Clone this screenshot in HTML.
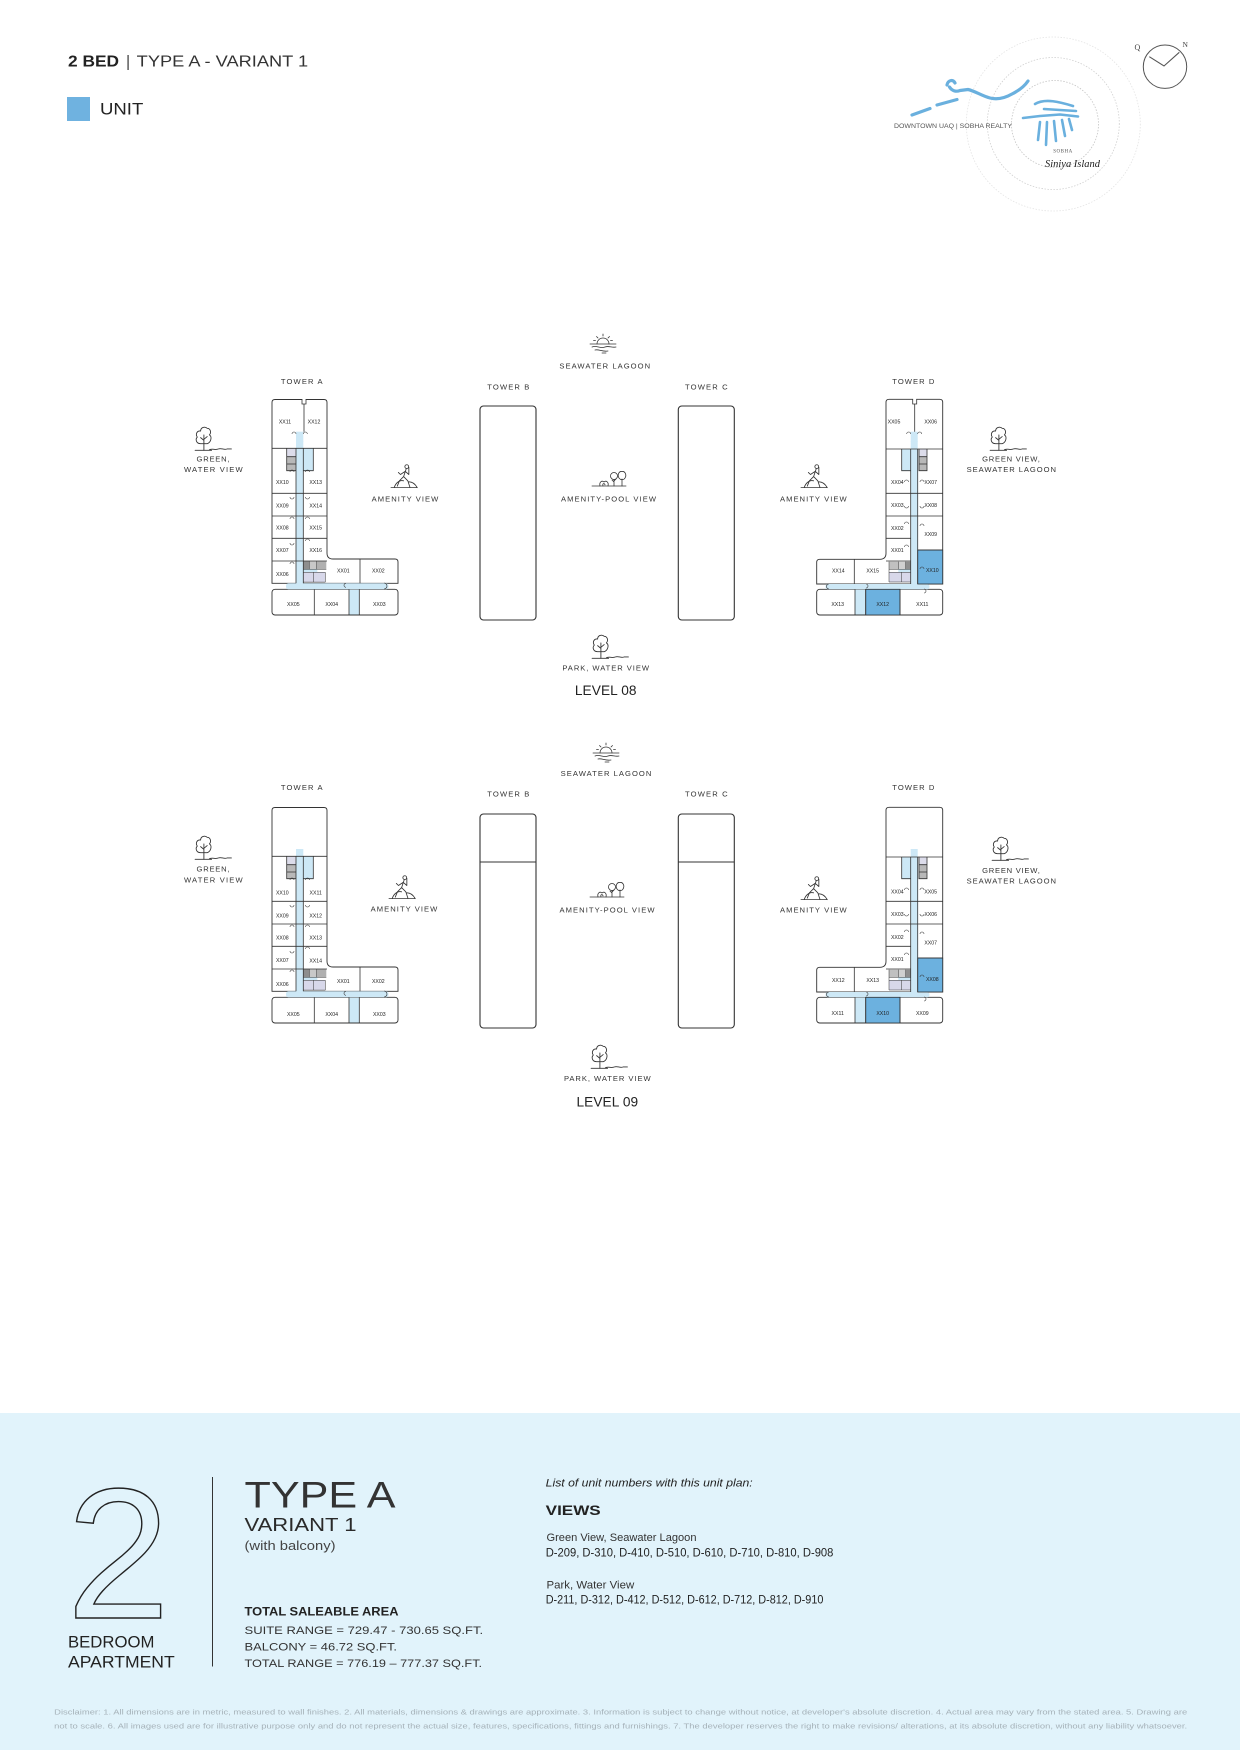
<!DOCTYPE html>
<html><head><meta charset="utf-8">
<style>
html,body{margin:0;padding:0;background:#fff;}
svg{display:block;}
text{font-family:"Liberation Sans",Arial,sans-serif;}
.o{fill:#fff;stroke:#333;stroke-width:0.9;}
.c{fill:#cde8f6;}
.h{fill:#6cb1df;stroke:#333;stroke-width:0.8;}
.l{fill:none;stroke:#333;stroke-width:0.8;}
.u{font-size:5.2px;fill:#222;text-anchor:middle;}
.t{font-size:7.6px;fill:#333;text-anchor:middle;}
.ic{fill:none;stroke:#333;stroke-width:0.8;stroke-linecap:round;stroke-linejoin:round;}
.bl{fill:none;stroke:#6ab0de;stroke-width:3.2;stroke-linecap:round;stroke-linejoin:round;}
</style></head><body>
<svg width="1240" height="1750" viewBox="0 0 1240 1750" xmlns="http://www.w3.org/2000/svg">
<defs>
 <g id="iTree" class="ic">
  <path d="M6,17 C2,17 1,13 3,11 C1,8 3,5 6,5.5 C6,2 10,1 12,3 C15,3 16,7 14,9 C17,11 15,16 12,17 Z"/>
  <path d="M9,9 V23 M9,14 L6,11.5 M9,13 L12,10.5"/>
  <path d="M1,23 H16 M14,22.5 C17,21 19,23 22,21.8 C25,20.8 27,22.8 30,21.8 L34,21.8"/>
 </g>
 <g id="iPerson" class="ic">
  <circle cx="15" cy="2.5" r="1.8"/>
  <path d="M14.5,4.5 L12,12 L8,16 L6,21 M12,12 L16,16 L18,22 M13.5,7 L9,10 L7,8 M13.5,7 L17,10 L17,3"/>
  <path d="M0,22.5 H25 M3,22.5 C5,17 9,15 12,16 M17,17 C20,17 23,19 25,22.5"/>
 </g>
 <g id="iSun" class="ic">
  <path d="M9,11 A6,6 0 0 1 21,11"/>
  <path d="M15,1 V3 M8.5,3.5 L10,5 M21.5,3.5 L20,5 M5.5,7.5 H7.5 M22.5,7.5 H24.5"/>
  <path d="M2,11 H28 M4,14 C9,12 12,16 17,14 C21,12.5 24,15 28,14 M7,17 C11,16 14,19 20,18 M14,20 H18"/>
 </g>
 <g id="iPool" class="ic">
  <path d="M0,16 H34"/>
  <circle cx="22" cy="6" r="3.5"/>
  <path d="M22,9.5 V16 M22,12 L20,10 M22,11 L24,9"/>
  <path d="M27,8 C25,5 27,1 30,1.5 C33,1 35,5 33,8 C32,10 29,10 28,9 Z"/>
  <path d="M30,9 V16"/>
  <path d="M8,16 C7,12 10,10 12,12 C14,10 17,12 16,16 M11,16 C10,13 13,13 13,15"/>
 </g>

 <g id="taB">
  <path class="o" d="M275,399.5 H324 Q327,399.5 327,402.5 V553 Q327,559 333,559 H395 Q398,559 398,562 V583.3 H272 V402.5 Q272,399.5 275,399.5 Z"/>
  <rect class="o" x="272" y="589.3" width="126" height="25.7" rx="3"/>
  <rect class="c" x="296" y="441" width="7.3" height="146"/>
  <rect class="c" x="286" y="583.3" width="102.5" height="6" rx="2.5"/>
  <rect class="c" x="349" y="589.8" width="10.3" height="24.7"/>
  <rect fill="#dcdcea" x="286.7" y="448.3" width="9.3" height="8.4"/>
  <rect fill="#b8b8b8" x="286.7" y="456.7" width="9.3" height="14"/>
  <rect class="c" x="303.3" y="448.3" width="10" height="22.4"/>
  <path class="l" d="M286.7,448.3 V470.7 H296 M286.7,456.7 H296 M286.7,464 H296 M303.3,470.7 H313.3 V448.3"/>
  <rect fill="#8e8e8e" x="303.3" y="561" width="6" height="8.3"/>
  <rect fill="#c8c8c8" x="309.3" y="561" width="7.4" height="8.3"/>
  <rect fill="#b0b0b0" x="316.7" y="561" width="9.6" height="8.3"/>
  <rect class="c" x="303.3" y="569.3" width="14" height="3"/>
  <rect fill="#d8d8ea" x="303.3" y="572.3" width="10" height="9.8"/>
  <rect fill="#d8d8ea" x="313.3" y="572.3" width="12" height="9.8"/>
  <path class="l" style="stroke-width:0.5" d="M309.3,561 V569.3 M316.7,561 V569.3 M303.3,569.3 H326.3 M303.3,572.3 H325.3 V582.1 H303.3 M313.3,572.3 V582.1"/>
  <path class="l" d="M272,448.3 H327 M272,493.3 H327 M272,516 H327 M272,538.3 H327 M272,561 H327 M296,448.3 V583.3 M303.3,448.3 V583.3 M360,559 V583.3 M314.3,589.3 V615 M349,589.3 V615 M359.3,589.3 V615"/>
  <path class="l" style="stroke-width:0.6" d="M294,472 a2,2 0 0 0 -4,0 M305.5,472 a2,2 0 0 1 4,0 M294,497 a2,2 0 0 1 -4,0 M305.5,497 a2,2 0 0 0 4,0 M294,519 a2,2 0 0 0 -4,0 M305.5,519 a2,2 0 0 1 4,0 M294,543 a2,2 0 0 1 -4,0 M305.5,541 a2,2 0 0 1 4,0 M294,564 a2,2 0 0 0 -4,0 M346,583.3 a2,2 0 0 0 0,4 M384,583 a2.5,2.5 0 0 1 0,6"/>
 </g>

 <g id="tdB">
  <path class="o" d="M889,399.3 H939.7 Q942.7,399.3 942.7,402.3 V584 H816.7 V562.3 Q816.7,559.3 819.7,559.3 H880 Q886,559.3 886,553.3 V402.3 Q886,399.3 889,399.3 Z"/>
  <rect class="o" x="816.7" y="589.3" width="126" height="25.7" rx="3"/>
  <rect class="c" x="910.7" y="441" width="7" height="146"/>
  <rect class="c" x="825.5" y="584" width="104" height="5.3" rx="2.5"/>
  <rect class="c" x="855" y="589.8" width="10.7" height="24.7"/>
  <rect class="h" x="917.7" y="550" width="25" height="34"/>
  <rect class="h" x="865.7" y="589.3" width="34.3" height="25.7"/>
  <rect class="c" x="901.7" y="449" width="9" height="21.7"/>
  <rect fill="#dcdcea" x="919" y="449" width="8" height="7.7"/>
  <rect fill="#b8b8b8" x="919" y="456.7" width="8" height="14"/>
  <path class="l" d="M901.7,449 V470.7 H910.7 M919,449 V470.7 H927 V449 M919,456.7 H927 M919,464 H927"/>
  <rect fill="#c0c0c0" x="889" y="561.7" width="9.3" height="7.6"/>
  <rect fill="#d0d0d0" x="898.3" y="561.7" width="7.4" height="7.6"/>
  <rect fill="#8e8e8e" x="905.7" y="561.7" width="5" height="7.6"/>
  <rect class="c" x="898.3" y="569.3" width="12.4" height="3"/>
  <rect fill="#d8d8ea" x="889" y="572.3" width="12.7" height="9.7"/>
  <rect fill="#d8d8ea" x="901.7" y="572.3" width="9" height="9.7"/>
  <path class="l" style="stroke-width:0.5" d="M889,561.7 V582 H910.7 M898.3,561.7 V569.3 M905.7,561.7 V569.3 M889,569.3 H910.7 M889,572.3 H910.7 M901.7,572.3 V582"/>
  <path class="l" d="M886,449 H942.7 M886,493.3 H942.7 M886,516 H942.7 M886,538.3 H910.7 M886,561 H910.7 M917.7,550 H942.7 M910.7,449 V584 M917.7,449 V584 M854.3,559.3 V584 M855,589.3 V615 M865.7,589.3 V615 M900,589.3 V615"/>
  <path class="l" style="stroke-width:0.6" d="M908.5,482 a2,2 0 0 0 -4,0 M920,482 a2,2 0 0 1 4,0 M908.5,506 a2,2 0 0 1 -4,0 M920,506 a2,2 0 0 0 4,0 M908.5,524 a2,2 0 0 0 -4,0 M920,526 a2,2 0 0 1 4,0 M908.5,547 a2,2 0 0 0 -4,0 M920,569 a2,2 0 0 1 4,0 M829,584 a2.5,2.5 0 0 0 0,5 M866,584 a2,2 0 0 1 0,4 M924,589 a2,2 0 0 1 0,4"/>
 </g>

 <g id="tbc">
  <rect class="o" style="stroke-width:1.1" x="480" y="406" width="56" height="214" rx="3.5"/>
  <rect class="o" style="stroke-width:1.1" x="678.3" y="406" width="56" height="214" rx="3.5"/>
 </g>
</defs>

<!-- HEADER -->
<text x="68" y="66.7" font-size="16" font-weight="bold" fill="#222" textLength="51" lengthAdjust="spacingAndGlyphs">2 BED</text>
<text x="126" y="66.7" font-size="16" fill="#444">|</text>
<text x="136.7" y="66.7" font-size="16" fill="#333" textLength="171.5" lengthAdjust="spacingAndGlyphs">TYPE A - VARIANT 1</text>
<rect x="67" y="97" width="23" height="24" fill="#6fb2e0"/>
<text x="100" y="114.3" font-size="17" fill="#222" textLength="43.3" lengthAdjust="spacingAndGlyphs">UNIT</text>

<!-- MAP -->
<circle cx="1053.3" cy="124" r="87" fill="none" stroke="#e4e4e4" stroke-width="0.8" stroke-dasharray="1.5 1.5"/>
<circle cx="1053.3" cy="123.5" r="66" fill="none" stroke="#d0d0d0" stroke-width="0.8" stroke-dasharray="1.5 1.5"/>
<circle cx="1055" cy="124" r="43.5" fill="none" stroke="#c4c4c4" stroke-width="0.8" stroke-dasharray="1.5 1.5"/>
<path class="bl" d="M912,115 L930,108.5"/>
<path class="bl" d="M937,105 L957,99.5"/>
<path class="bl" d="M947,85 C948,80 953,79 955,83 M949.5,87 C952,91 956,92 960,90.5 L968,89.5 C975,91 982,96 990,98 C998,100 1005,98 1012,94 C1018,91 1024,87 1028,81"/>
<path class="bl" style="stroke-width:2.6" d="M1023,118 L1040,116 L1060,114.5 L1078,116.5 M1035,104 C1045,98 1060,102 1073,106 M1044,109 L1076,111 M1040,122 L1038,140 M1047,122 L1046,145 M1054,121 L1056,141 M1062,120 L1065,136 M1069,119 L1072,130"/>
<text x="894" y="128" font-size="6.5" fill="#555" textLength="118" lengthAdjust="spacingAndGlyphs">DOWNTOWN UAQ | SOBHA REALTY</text>
<text x="1063" y="152.5" font-size="5" fill="#555" text-anchor="middle" style="font-family:'Liberation Serif',serif" letter-spacing="0.5">SOBHA</text>
<text x="1045" y="167" font-size="11" fill="#222" font-style="italic" style="font-family:'Liberation Serif',serif" textLength="55" lengthAdjust="spacingAndGlyphs">Siniya Island</text>
<circle cx="1165" cy="66.7" r="21.7" fill="none" stroke="#555" stroke-width="1"/>
<path d="M1149.3,56.7 L1164,66 L1179.3,52.3" fill="none" stroke="#555" stroke-width="1.1"/>
<text x="1134.5" y="50" font-size="8" fill="#444" style="font-family:'Liberation Serif',serif">Q</text>
<text x="1182.5" y="47" font-size="7.5" fill="#444" style="font-family:'Liberation Serif',serif">N</text>

<!-- ===== LEVEL 08 ===== -->
<use href="#taB"/>
<rect class="c" x="296" y="431.7" width="7.3" height="10"/>
<rect fill="#fff" x="302.4" y="398.6" width="3.2" height="1.6"/>
<path class="l" d="M302,399.5 V404 H306 V399.5 M304,404 V431.7"/>
<path class="l" style="stroke-width:0.6" d="M296,434 a2,2 0 0 0 -4,0 M303.3,434 a2,2 0 0 1 4,0"/>
<use href="#tdB"/>
<rect class="c" x="910.7" y="431.7" width="7" height="10"/>
<rect fill="#fff" x="913.1" y="398.4" width="3.2" height="1.6"/>
<path class="l" d="M912.7,399.3 V404 H916.7 V399.3 M914.7,404 V431.7"/>
<path class="l" style="stroke-width:0.6" d="M910.7,434 a2,2 0 0 0 -4,0 M917.7,434 a2,2 0 0 1 4,0"/>
<use href="#tbc"/>

<g class="u">
 <text x="285" y="423.5">XX11</text><text x="314" y="423.5">XX12</text>
 <text x="282.3" y="484.1">XX10</text><text x="315.7" y="484.1">XX13</text>
 <text x="282.3" y="507.5">XX09</text><text x="315.7" y="507.5">XX14</text>
 <text x="282.3" y="529.5">XX08</text><text x="315.7" y="529.5">XX15</text>
 <text x="282.3" y="551.8">XX07</text><text x="315.7" y="551.8">XX16</text>
 <text x="282.3" y="576.1">XX06</text>
 <text x="343.3" y="572.5">XX01</text><text x="378.3" y="572.5">XX02</text>
 <text x="293.3" y="605.8">XX05</text><text x="331.7" y="605.8">XX04</text><text x="379.3" y="605.8">XX03</text>

 <text x="894" y="423.5">XX05</text><text x="930.7" y="423.5">XX06</text>
 <text x="897.3" y="484.1">XX04</text><text x="930.7" y="484.1">XX07</text>
 <text x="897.3" y="506.8">XX03</text><text x="930.7" y="506.8">XX08</text>
 <text x="897.3" y="530.1">XX02</text><text x="930.7" y="535.8">XX09</text>
 <text x="897.3" y="551.8">XX01</text><text x="932.3" y="571.8">XX10</text>
 <text x="838.3" y="572.5">XX14</text><text x="872.7" y="572.5">XX15</text>
 <text x="837.7" y="605.8">XX13</text><text x="882.7" y="605.8">XX12</text><text x="922.3" y="605.8">XX11</text>
</g>

<g class="t">
 <text x="301.7" y="384" textLength="41.7">TOWER A</text>
 <text x="508.3" y="389.3" textLength="42">TOWER B</text>
 <text x="706.3" y="389.3" textLength="42.7">TOWER C</text>
 <text x="913.3" y="384" textLength="42">TOWER D</text>
 <text x="604.7" y="368.3" textLength="90.7">SEAWATER LAGOON</text>
 <text x="213" y="461.7" textLength="33">GREEN,</text>
 <text x="213.3" y="472" textLength="58.7">WATER VIEW</text>
 <text x="405" y="501.7" textLength="66.7">AMENITY VIEW</text>
 <text x="608.5" y="501.7" textLength="95">AMENITY-POOL VIEW</text>
 <text x="813.3" y="501.7" textLength="66.7">AMENITY VIEW</text>
 <text x="1011" y="461.7" textLength="57.7">GREEN VIEW,</text>
 <text x="1011.3" y="472" textLength="89.3">SEAWATER LAGOON</text>
 <text x="605.7" y="670.7" textLength="86.7">PARK, WATER VIEW</text>
</g>
<text x="605.7" y="695" font-size="13.7" fill="#222" text-anchor="middle" textLength="61.7">LEVEL 08</text>

<use href="#iTree" transform="translate(194,425) scale(1.1)"/>
<use href="#iPerson" transform="translate(391,464) scale(1.05)"/>
<use href="#iSun" transform="translate(588,333)"/>
<use href="#iPool" transform="translate(592,470)"/>
<use href="#iTree" transform="translate(591,633) scale(1.1)"/>
<use href="#iTree" transform="translate(989,425) scale(1.1)"/>
<use href="#iPerson" transform="translate(801,464) scale(1.05)"/>

<!-- ===== LEVEL 09 ===== -->
<g transform="translate(0,408)">
 <use href="#taB"/>
 <use href="#tdB"/>
 <use href="#tbc"/>
 <path class="l" style="stroke-width:1.1" d="M480,454 H536 M678.3,454 H734.3"/>
</g>

<g class="u">
 <text x="282.3" y="894.5">XX10</text><text x="315.7" y="894.5">XX11</text>
 <text x="282.3" y="917.5">XX09</text><text x="315.7" y="917.5">XX12</text>
 <text x="282.3" y="939.5">XX08</text><text x="315.7" y="939.5">XX13</text>
 <text x="282.3" y="961.8">XX07</text><text x="315.7" y="962.5">XX14</text>
 <text x="282.3" y="985.8">XX06</text>
 <text x="343.3" y="983.1">XX01</text><text x="378.3" y="983.1">XX02</text>
 <text x="293.3" y="1015.8">XX05</text><text x="331.7" y="1015.8">XX04</text><text x="379.3" y="1015.8">XX03</text>

 <text x="897.3" y="893.5">XX04</text><text x="930.7" y="893.5">XX05</text>
 <text x="897.3" y="916.1">XX03</text><text x="930.7" y="916.1">XX06</text>
 <text x="897.3" y="939.1">XX02</text><text x="930.7" y="944.5">XX07</text>
 <text x="897.3" y="960.8">XX01</text><text x="932.3" y="980.8">XX08</text>
 <text x="838.3" y="981.8">XX12</text><text x="872.7" y="981.8">XX13</text>
 <text x="837.7" y="1015.1">XX11</text><text x="882.7" y="1015.1">XX10</text><text x="922.3" y="1015.1">XX09</text>
</g>

<g class="t">
 <text x="301.7" y="790" textLength="41.7">TOWER A</text>
 <text x="508.3" y="796.7" textLength="42">TOWER B</text>
 <text x="706.3" y="796.7" textLength="42.7">TOWER C</text>
 <text x="913.3" y="790" textLength="42">TOWER D</text>
 <text x="606" y="776" textLength="90.7">SEAWATER LAGOON</text>
 <text x="213" y="871.7" textLength="33">GREEN,</text>
 <text x="213.3" y="882.3" textLength="58.7">WATER VIEW</text>
 <text x="404" y="911.7" textLength="66.7">AMENITY VIEW</text>
 <text x="607" y="912.7" textLength="95">AMENITY-POOL VIEW</text>
 <text x="813.3" y="912.7" textLength="66.7">AMENITY VIEW</text>
 <text x="1011" y="873" textLength="57.7">GREEN VIEW,</text>
 <text x="1011.3" y="883.3" textLength="89.3">SEAWATER LAGOON</text>
 <text x="607.3" y="1081" textLength="86.7">PARK, WATER VIEW</text>
</g>
<text x="607.3" y="1106.7" font-size="13.7" fill="#222" text-anchor="middle" textLength="61.7">LEVEL 09</text>

<use href="#iTree" transform="translate(194,834) scale(1.1)"/>
<use href="#iPerson" transform="translate(389,875) scale(1.05)"/>
<use href="#iSun" transform="translate(591,742)"/>
<use href="#iPool" transform="translate(590,881)"/>
<use href="#iTree" transform="translate(590,1043) scale(1.1)"/>
<use href="#iTree" transform="translate(991,835) scale(1.1)"/>
<use href="#iPerson" transform="translate(801,876) scale(1.05)"/>

<!-- ===== BOTTOM PANEL ===== -->
<rect x="0" y="1413" width="1240" height="337" fill="#e1f3fb"/>
<text x="66.5" y="1618" font-size="186" fill="none" stroke="#222" stroke-width="1.4">2</text>
<text x="68" y="1647.6" font-size="16.5" fill="#222" textLength="86.4" lengthAdjust="spacingAndGlyphs">BEDROOM</text>
<text x="68" y="1667.6" font-size="16.5" fill="#222" textLength="106.7" lengthAdjust="spacingAndGlyphs">APARTMENT</text>
<line x1="212.5" y1="1477" x2="212.5" y2="1666.5" stroke="#333" stroke-width="1"/>
<text x="244.5" y="1507.5" font-size="37" fill="#333" textLength="151" lengthAdjust="spacingAndGlyphs">TYPE A</text>
<text x="244.5" y="1531" font-size="18" fill="#2a2a2a" textLength="112" lengthAdjust="spacingAndGlyphs">VARIANT 1</text>
<text x="244.5" y="1550" font-size="13" fill="#444" textLength="91" lengthAdjust="spacingAndGlyphs">(with balcony)</text>
<text x="244.5" y="1615.6" font-size="11.5" font-weight="bold" fill="#222" textLength="154" lengthAdjust="spacingAndGlyphs">TOTAL SALEABLE AREA</text>
<text x="244.5" y="1633.8" font-size="11" fill="#333" textLength="238.6" lengthAdjust="spacingAndGlyphs">SUITE RANGE = 729.47 - 730.65 SQ.FT.</text>
<text x="244.5" y="1650.4" font-size="11" fill="#333" textLength="152.5" lengthAdjust="spacingAndGlyphs">BALCONY = 46.72 SQ.FT.</text>
<text x="244.5" y="1667" font-size="11" fill="#333" textLength="237.6" lengthAdjust="spacingAndGlyphs">TOTAL RANGE = 776.19 – 777.37 SQ.FT.</text>

<text x="545.7" y="1486.7" font-size="11" font-style="italic" fill="#222" textLength="207" lengthAdjust="spacingAndGlyphs">List of unit numbers with this unit plan:</text>
<text x="545.7" y="1515" font-size="14" font-weight="bold" fill="#222" textLength="55" lengthAdjust="spacingAndGlyphs">VIEWS</text>
<text x="546.5" y="1541" font-size="11" fill="#333" textLength="150" lengthAdjust="spacingAndGlyphs">Green View, Seawater Lagoon</text>
<text x="545.7" y="1556.7" font-size="11.5" fill="#222" textLength="287.7" lengthAdjust="spacingAndGlyphs">D-209, D-310, D-410, D-510, D-610, D-710, D-810, D-908</text>
<text x="546.5" y="1588.3" font-size="11" fill="#333" textLength="87.7" lengthAdjust="spacingAndGlyphs">Park, Water View</text>
<text x="545.7" y="1603.3" font-size="11.5" fill="#222" textLength="277.7" lengthAdjust="spacingAndGlyphs">D-211, D-312, D-412, D-512, D-612, D-712, D-812, D-910</text>

<text x="54.2" y="1714.5" font-size="7.6" fill="#a6b2b9" textLength="1133" lengthAdjust="spacingAndGlyphs">Disclaimer: 1. All dimensions are in metric, measured to wall finishes. 2. All materials, dimensions &amp; drawings are approximate. 3. Information is subject to change without notice, at developer's absolute discretion. 4. Actual area may vary from the stated area. 5. Drawing are</text>
<text x="54.2" y="1728.4" font-size="7.6" fill="#a6b2b9" textLength="1133" lengthAdjust="spacingAndGlyphs">not to scale. 6. All images used are for illustrative purpose only and do not represent the actual size, features, specifications, fittings and furnishings. 7. The developer reserves the right to make revisions/ alterations, at its absolute discretion, without any liability whatsoever.</text>
</svg>
</body></html>
